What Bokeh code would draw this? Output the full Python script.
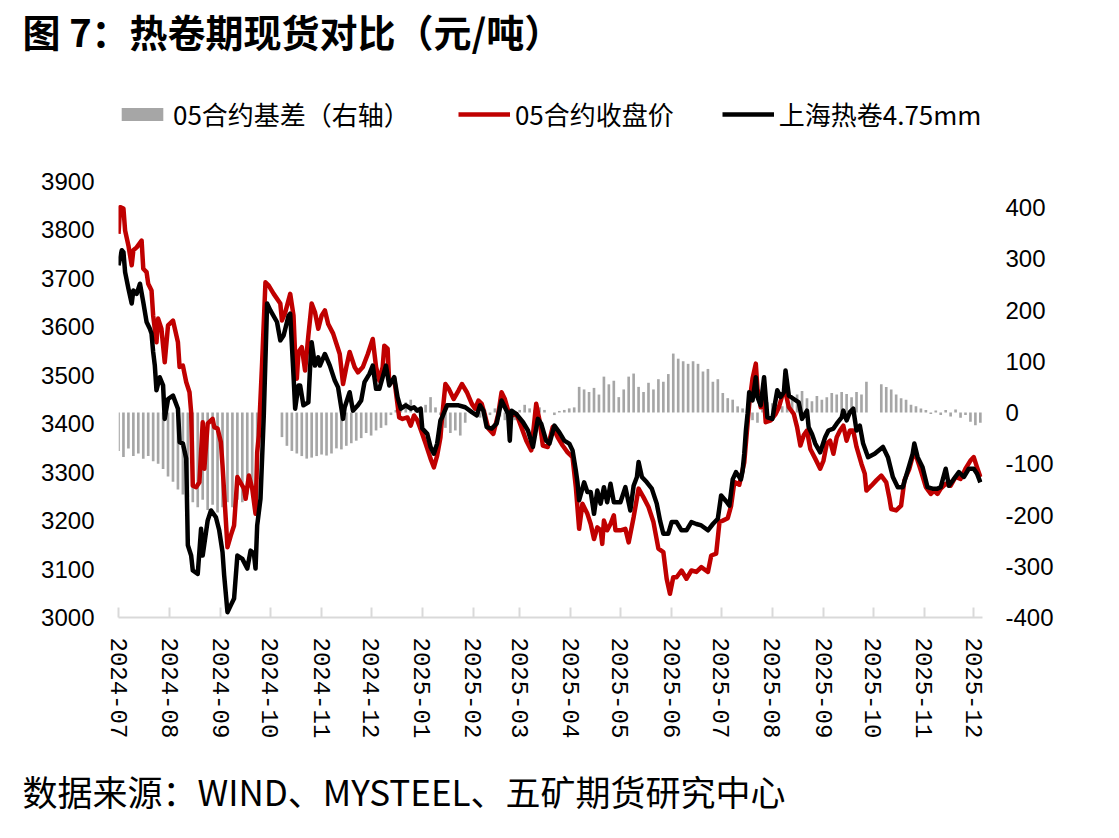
import pandas as pd
from bokeh.plotting import figure
from bokeh.models import (Range1d, LinearAxis, FixedTicker, DatetimeTickFormatter, NumeralTickFormatter,
                          Title, Legend, LegendItem, ColumnDataSource)
from bokeh.embed import file_html
from bokeh.resources import INLINE

# ---------------- data ----------------
tick_labels = ["2024-07", "2024-08", "2024-09", "2024-10", "2024-11", "2024-12",
               "2025-01", "2025-02", "2025-03", "2025-04", "2025-05", "2025-06",
               "2025-07", "2025-08", "2025-09", "2025-10", "2025-11", "2025-12"]
left_ticks = [3000, 3100, 3200, 3300, 3400, 3500, 3600, 3700, 3800, 3900]
right_ticks = [-400, -300, -200, -100, 0, 100, 200, 300, 400]

red_dates = [
    "2024-07-01", "2024-07-02", "2024-07-04", "2024-07-05", "2024-07-07", "2024-07-09", "2024-07-10", "2024-07-12",
    "2024-07-15", "2024-07-16", "2024-07-18", "2024-07-19", "2024-07-21", "2024-07-22", "2024-07-24", "2024-07-25",
    "2024-07-27", "2024-07-29", "2024-07-31", "2024-08-03", "2024-08-06", "2024-08-07", "2024-08-09", "2024-08-11",
    "2024-08-13", "2024-08-14", "2024-08-15", "2024-08-17", "2024-08-19", "2024-08-21", "2024-08-22", "2024-08-24",
    "2024-08-27", "2024-08-28", "2024-08-30", "2024-09-01", "2024-09-02", "2024-09-05", "2024-09-07", "2024-09-09",
    "2024-09-11", "2024-09-15", "2024-09-16", "2024-09-18", "2024-09-20", "2024-09-22", "2024-09-23", "2024-09-24",
    "2024-09-26", "2024-09-28", "2024-09-30", "2024-10-03", "2024-10-07", "2024-10-08", "2024-10-10", "2024-10-13",
    "2024-10-15", "2024-10-16", "2024-10-17", "2024-10-18", "2024-10-20", "2024-10-22", "2024-10-24", "2024-10-26",
    "2024-10-28", "2024-10-30", "2024-11-01", "2024-11-03", "2024-11-05", "2024-11-08", "2024-11-10", "2024-11-12",
    "2024-11-14", "2024-11-16", "2024-11-18", "2024-11-21", "2024-11-23", "2024-11-26", "2024-11-29", "2024-12-02",
    "2024-12-04", "2024-12-06", "2024-12-08", "2024-12-09", "2024-12-11", "2024-12-12", "2024-12-15", "2024-12-18",
    "2024-12-20", "2024-12-23", "2024-12-25", "2024-12-27", "2024-12-29", "2025-01-01", "2025-01-03", "2025-01-06",
    "2025-01-08", "2025-01-10", "2025-01-12", "2025-01-13", "2025-01-15", "2025-01-17", "2025-01-20", "2025-01-23",
    "2025-01-25", "2025-01-28", "2025-01-31", "2025-02-02", "2025-02-04", "2025-02-06", "2025-02-08", "2025-02-10",
    "2025-02-13", "2025-02-16", "2025-02-18", "2025-02-20", "2025-02-22", "2025-02-24", "2025-02-27", "2025-03-02",
    "2025-03-05", "2025-03-08", "2025-03-11", "2025-03-13", "2025-03-15", "2025-03-18", "2025-03-21", "2025-03-24",
    "2025-03-27", "2025-03-30", "2025-04-02", "2025-04-04", "2025-04-06", "2025-04-08", "2025-04-11", "2025-04-13",
    "2025-04-15", "2025-04-17", "2025-04-19", "2025-04-20", "2025-04-21", "2025-04-23", "2025-04-25", "2025-04-27",
    "2025-04-28", "2025-05-01", "2025-05-04", "2025-05-06", "2025-05-09", "2025-05-12", "2025-05-15", "2025-05-18",
    "2025-05-21", "2025-05-24", "2025-05-27", "2025-05-29", "2025-05-31", "2025-06-02", "2025-06-04", "2025-06-07",
    "2025-06-10", "2025-06-13", "2025-06-16", "2025-06-19", "2025-06-23", "2025-06-25", "2025-06-28", "2025-06-30",
    "2025-07-02", "2025-07-05", "2025-07-07", "2025-07-09", "2025-07-12", "2025-07-15", "2025-07-17", "2025-07-18",
    "2025-07-20", "2025-07-22", "2025-07-23", "2025-07-25", "2025-07-27", "2025-07-28", "2025-07-31", "2025-08-03",
    "2025-08-05", "2025-08-07", "2025-08-09", "2025-08-11", "2025-08-14", "2025-08-16", "2025-08-18", "2025-08-20",
    "2025-08-22", "2025-08-24", "2025-08-27", "2025-08-30", "2025-09-01", "2025-09-03", "2025-09-05", "2025-09-07",
    "2025-09-09", "2025-09-11", "2025-09-13", "2025-09-15", "2025-09-17", "2025-09-19", "2025-09-21", "2025-09-24",
    "2025-09-26", "2025-09-27", "2025-09-30", "2025-10-03", "2025-10-06", "2025-10-09", "2025-10-11", "2025-10-12",
    "2025-10-15", "2025-10-18", "2025-10-20", "2025-10-23", "2025-10-26", "2025-10-28", "2025-10-30", "2025-11-02",
    "2025-11-05", "2025-11-07", "2025-11-09", "2025-11-11", "2025-11-14", "2025-11-17", "2025-11-20", "2025-11-23",
    "2025-11-26", "2025-11-29", "2025-12-01", "2025-12-03", "2025-12-05"]
red_values = [
    3792, 3847, 3844, 3799, 3768, 3727, 3758, 3764,
    3778, 3720, 3713, 3689, 3675, 3623, 3568, 3617,
    3596, 3527, 3603, 3613, 3568, 3517, 3520, 3486,
    3465, 3424, 3272, 3269, 3279, 3403, 3307, 3400,
    3410, 3393, 3390, 3362, 3314, 3145, 3169, 3190,
    3290, 3266, 3245, 3293, 3266, 3214, 3341, 3376,
    3527, 3692, 3685, 3668, 3648, 3613, 3630, 3668,
    3623, 3541, 3493, 3548, 3558, 3510, 3582, 3648,
    3630, 3596, 3623, 3634, 3606, 3586, 3565, 3544,
    3482, 3517, 3548, 3517, 3506, 3517, 3544, 3575,
    3517, 3489, 3517, 3561, 3555, 3482, 3493, 3413,
    3410, 3413, 3396, 3417, 3407, 3379, 3359, 3328,
    3310, 3334, 3372, 3413, 3482, 3472, 3451, 3469,
    3482, 3465, 3441, 3431, 3448, 3441, 3417, 3390,
    3379, 3420, 3465, 3451, 3427, 3417, 3420, 3393,
    3365, 3345, 3441, 3407, 3355, 3352, 3393, 3372,
    3355, 3341, 3331, 3269, 3183, 3235, 3214, 3193,
    3162, 3186, 3180, 3152, 3200, 3180, 3193, 3211,
    3180, 3180, 3183, 3155, 3207, 3266, 3248, 3228,
    3197, 3142, 3135, 3080, 3049, 3083, 3083, 3097,
    3080, 3097, 3094, 3104, 3094, 3128, 3132, 3197,
    3200, 3205, 3230, 3280, 3274, 3320, 3400, 3440,
    3493, 3524, 3472, 3434, 3455, 3403, 3407, 3420,
    3434, 3458, 3465, 3434, 3420, 3393, 3355, 3376,
    3386, 3348, 3328, 3307, 3324, 3359, 3365, 3338,
    3372, 3386, 3396, 3365, 3386, 3386, 3352, 3317,
    3297, 3262, 3272, 3283, 3293, 3279, 3245, 3224,
    3221, 3231, 3283, 3307, 3345, 3324, 3303, 3269,
    3255, 3262, 3255, 3266, 3276, 3272, 3290, 3286,
    3307, 3324, 3331, 3310, 3290]

black_dates = [
    "2024-07-01", "2024-07-03", "2024-07-04", "2024-07-05", "2024-07-07", "2024-07-09", "2024-07-10", "2024-07-12",
    "2024-07-14", "2024-07-16", "2024-07-18", "2024-07-20", "2024-07-21", "2024-07-22", "2024-07-23", "2024-07-24",
    "2024-07-26", "2024-07-28", "2024-07-29", "2024-07-31", "2024-08-03", "2024-08-06", "2024-08-07", "2024-08-09",
    "2024-08-11", "2024-08-12", "2024-08-14", "2024-08-15", "2024-08-18", "2024-08-20", "2024-08-21", "2024-08-24",
    "2024-08-26", "2024-08-29", "2024-08-31", "2024-09-02", "2024-09-03", "2024-09-05", "2024-09-07", "2024-09-09",
    "2024-09-11", "2024-09-14", "2024-09-17", "2024-09-19", "2024-09-21", "2024-09-22", "2024-09-23", "2024-09-25",
    "2024-09-27", "2024-09-29", "2024-10-01", "2024-10-05", "2024-10-07", "2024-10-09", "2024-10-12", "2024-10-13",
    "2024-10-15", "2024-10-16", "2024-10-18", "2024-10-19", "2024-10-21", "2024-10-24", "2024-10-25", "2024-10-26",
    "2024-10-28", "2024-10-30", "2024-10-31", "2024-11-03", "2024-11-06", "2024-11-09", "2024-11-11", "2024-11-14",
    "2024-11-15", "2024-11-18", "2024-11-20", "2024-11-23", "2024-11-25", "2024-11-27", "2024-11-30", "2024-12-02",
    "2024-12-04", "2024-12-06", "2024-12-08", "2024-12-10", "2024-12-12", "2024-12-15", "2024-12-17", "2024-12-19",
    "2024-12-22", "2024-12-25", "2024-12-27", "2024-12-29", "2024-12-31", "2025-01-01", "2025-01-04", "2025-01-06",
    "2025-01-08", "2025-01-10", "2025-01-12", "2025-01-13", "2025-01-16", "2025-01-23", "2025-01-27", "2025-01-31",
    "2025-02-03", "2025-02-05", "2025-02-07", "2025-02-09", "2025-02-12", "2025-02-15", "2025-02-18", "2025-02-20",
    "2025-02-22", "2025-02-23", "2025-02-24", "2025-02-27", "2025-03-03", "2025-03-06", "2025-03-09", "2025-03-12",
    "2025-03-14", "2025-03-17", "2025-03-19", "2025-03-22", "2025-03-25", "2025-03-28", "2025-03-31", "2025-04-02",
    "2025-04-04", "2025-04-05", "2025-04-06", "2025-04-09", "2025-04-11", "2025-04-13", "2025-04-15", "2025-04-17",
    "2025-04-19", "2025-04-21", "2025-04-23", "2025-04-25", "2025-04-27", "2025-05-01", "2025-05-04", "2025-05-07",
    "2025-05-09", "2025-05-11", "2025-05-12", "2025-05-14", "2025-05-17", "2025-05-20", "2025-05-23", "2025-05-25",
    "2025-05-27", "2025-05-30", "2025-06-01", "2025-06-04", "2025-06-07", "2025-06-10", "2025-06-13", "2025-06-16",
    "2025-06-19", "2025-06-23", "2025-06-26", "2025-06-29", "2025-07-01", "2025-07-04", "2025-07-06", "2025-07-08",
    "2025-07-10", "2025-07-13", "2025-07-14", "2025-07-15", "2025-07-16", "2025-07-17", "2025-07-18", "2025-07-20",
    "2025-07-22", "2025-07-23", "2025-07-25", "2025-07-27", "2025-07-29", "2025-08-01", "2025-08-04", "2025-08-06",
    "2025-08-08", "2025-08-09", "2025-08-11", "2025-08-14", "2025-08-17", "2025-08-19", "2025-08-22", "2025-08-23",
    "2025-08-25", "2025-08-27", "2025-08-30", "2025-09-02", "2025-09-04", "2025-09-07", "2025-09-09", "2025-09-12",
    "2025-09-13", "2025-09-15", "2025-09-17", "2025-09-19", "2025-09-21", "2025-09-23", "2025-09-25", "2025-09-28",
    "2025-10-02", "2025-10-07", "2025-10-10", "2025-10-13", "2025-10-16", "2025-10-19", "2025-10-22", "2025-10-25",
    "2025-10-26", "2025-10-28", "2025-10-31", "2025-11-03", "2025-11-06", "2025-11-09", "2025-11-11", "2025-11-14",
    "2025-11-16", "2025-11-19", "2025-11-22", "2025-11-25", "2025-11-28", "2025-12-01", "2025-12-03", "2025-12-05"]
black_values = [
    3727, 3758, 3754, 3713, 3679, 3648, 3675, 3668,
    3689, 3651, 3610, 3596, 3586, 3548, 3520, 3469,
    3496, 3479, 3410, 3451, 3458, 3431, 3362, 3359,
    3328, 3149, 3128, 3097, 3090, 3183, 3128, 3200,
    3221, 3207, 3180, 3135, 3087, 3011, 3025, 3039,
    3128, 3121, 3101, 3138, 3132, 3101, 3190, 3245,
    3417, 3648, 3634, 3610, 3572, 3582, 3623, 3627,
    3500, 3431, 3479, 3479, 3438, 3444, 3513, 3568,
    3520, 3537, 3520, 3544, 3520, 3489, 3475, 3410,
    3434, 3465, 3427, 3438, 3448, 3486, 3503, 3520,
    3472, 3472, 3496, 3520, 3479, 3496, 3455, 3431,
    3438, 3431, 3434, 3427, 3431, 3390, 3379, 3352,
    3338, 3359, 3407, 3413, 3438, 3438, 3434, 3424,
    3417, 3438, 3427, 3393, 3390, 3400, 3448, 3434,
    3420, 3365, 3427, 3420, 3403, 3386, 3352, 3410,
    3400, 3365, 3359, 3396, 3382, 3365, 3359, 3345,
    3303, 3279, 3242, 3279, 3259, 3259, 3214, 3262,
    3235, 3269, 3238, 3276, 3238, 3238, 3269, 3221,
    3272, 3290, 3321, 3290, 3279, 3266, 3235, 3200,
    3173, 3173, 3197, 3197, 3180, 3180, 3197, 3193,
    3190, 3180, 3193, 3204, 3252, 3240, 3231, 3285,
    3300, 3285, 3303, 3338, 3386, 3420, 3465, 3448,
    3496, 3455, 3438, 3496, 3413, 3410, 3469, 3455,
    3465, 3510, 3458, 3451, 3444, 3410, 3427, 3393,
    3379, 3359, 3341, 3372, 3386, 3390, 3400, 3413,
    3427, 3407, 3424, 3431, 3386, 3396, 3359, 3331,
    3338, 3352, 3331, 3290, 3269, 3269, 3303, 3338,
    3359, 3331, 3310, 3269, 3266, 3266, 3269, 3307,
    3272, 3286, 3300, 3290, 3307, 3307, 3297, 3279]

# basis bars (right axis), one reading every 3 calendar days from 2024-07-01
basis_start = "2024-07-01"
basis_step_days = 3
basis_values = [
    -75, -87, -70, -85, -80, -90, -85, -95, -100, -110,
    -125, -135, -150, -160, -165, -175, -185, -170, -190, -180,
    -195, -185, -175, -185, -170, -175, -160, -150, -130, -60,
    0, 0, 0, -48, -65, -75, -80, -85, -90, -88,
    -85, -82, -84, -80, -70, -72, -65, -60, -55, -50,
    -40, -45, -35, -30, -25, -5, 5, 10, 20, 25,
    8, 5, 15, 30, 10, -5, -30, -40, -35, -45,
    -20, 0, 0, -10, 5, -5, 8, -8, -15, -25,
    -15, 5, 15, 8, 5, 10, 5, 0, -5, 3,
    5, 8, 10, 50, 45, 40, 48, 35, 70, 55,
    62, 30, 45, 70, 76, 50, 40, 58, 45, 65,
    60, 75, 115, 105, 100, 95, 100, 95, 80, 85,
    60, 65, 38, 28, 25, 12, 8, -5, -15, -20,
    30, 20, 18, 15, 12, 28, 25, 35, 42, 28,
    22, 32, 25, 30, 38, 35, 40, 36, 30, 40,
    35, 60, 0, 0, 55, 50, 45, 35, 28, 25,
    15, 12, 8, 5, -3, 4, -5, 5, -8, 6,
    -10, -5, -18, -25, -20]

title_text = "图 7：热卷期现货对比（元/吨）"
source_text = "数据来源：WIND、MYSTEEL、五矿期货研究中心"
legend_labels = ["05合约基差（右轴）", "05合约收盘价", "上海热卷4.75mm"]

# ---------------- layout constants (pixels) ----------------
W, H = 1119, 838
FRAME_LEFT, FRAME_RIGHT = 118, 982      # frame edges on the canvas
FRAME_TOP, FRAME_BOTTOM = 60, 617       # frame extended upward to host the legend
Y3900, Y3000 = 181, 617                 # canvas rows of left axis 3900 / 3000
R400, RM400 = 207, 617                  # canvas rows of right axis 400 / -400

left_ppu = (Y3000 - Y3900) / 900.0
left_end = 3000 + (FRAME_BOTTOM - FRAME_TOP) / left_ppu
right_ppu = (RM400 - R400) / 800.0
right_end = -400 + (FRAME_BOTTOM - FRAME_TOP) / right_ppu

# ---------------- build ----------------
red_src = ColumnDataSource(dict(x=pd.to_datetime(red_dates), y=red_values))
black_src = ColumnDataSource(dict(x=pd.to_datetime(black_dates), y=black_values))
basis_x = pd.date_range(basis_start, periods=len(basis_values), freq=f"{basis_step_days}D")
basis_src = ColumnDataSource(dict(x=basis_x, y=basis_values))

x0 = pd.Timestamp("2024-07-01")
x1 = x0 + pd.Timedelta(days=523.3)

cjk = "Noto Sans CJK SC"

p = figure(width=W, height=H, x_axis_type="datetime",
           x_range=Range1d(x0, x1), y_range=Range1d(3000, left_end),
           output_backend="svg", toolbar_location=None,
           min_border_left=FRAME_LEFT, min_border_right=W - FRAME_RIGHT,
           min_border_top=FRAME_TOP, min_border_bottom=H - FRAME_BOTTOM)
p.outline_line_color = None
p.grid.visible = False
p.background_fill_color = "white"
p.border_fill_color = "white"

p.extra_y_ranges = {"basis": Range1d(-400, right_end)}

day_ms = 86400000
bars = p.vbar(x="x", top="y", bottom=0, width=1.6 * day_ms, source=basis_src,
              y_range_name="basis", fill_color="#A6A6A6", line_color=None)
red = p.line("x", "y", source=red_src, line_color="#C00000", line_width=4.5, line_join="round")
black = p.line("x", "y", source=black_src, line_color="#000000", line_width=4.5, line_join="round")

axis_font = "Liberation Sans"

# left axis
yax = p.yaxis[0]
yax.ticker = FixedTicker(ticks=left_ticks)
yax.formatter = NumeralTickFormatter(format="0")
yax.axis_line_color = None
yax.major_tick_line_color = None
yax.minor_tick_line_color = None
yax.major_label_standoff = 18
yax.major_label_text_font = axis_font
yax.major_label_text_font_size = "24px"
yax.major_label_text_color = "#000000"

# right axis
rax = LinearAxis(y_range_name="basis", ticker=FixedTicker(ticks=right_ticks))
rax.formatter = NumeralTickFormatter(format="0")
rax.axis_line_color = None
rax.major_tick_line_color = None
rax.minor_tick_line_color = None
rax.major_label_standoff = 17
rax.major_label_text_font = axis_font
rax.major_label_text_font_size = "24px"
rax.major_label_text_color = "#000000"
p.add_layout(rax, "right")

# x axis
xax = p.xaxis[0]
month_ticks = [pd.Timestamp(t + "-01").value // 10**6 for t in tick_labels]
xax.ticker = FixedTicker(ticks=month_ticks)
fmt = "%Y-%m"
xax.formatter = DatetimeTickFormatter(milliseconds=fmt, seconds=fmt, minsec=fmt, minutes=fmt,
                                      hourmin=fmt, hours=fmt, days=fmt, months=fmt, years=fmt)
xax.axis_line_color = "#D9D9D9"
xax.axis_line_width = 2
xax.major_tick_line_color = "#D9D9D9"
xax.major_tick_line_width = 2
xax.major_tick_in = 10
xax.major_tick_out = 0
xax.minor_tick_line_color = None
xax.major_label_orientation = "vertical"
xax.major_label_standoff = 20
xax.major_label_text_font = "Liberation Mono"
xax.major_label_text_font_size = "24px"
xax.major_label_text_color = "#000000"

# title (above the frame)
p.title.text = title_text
p.title.align = "left"
p.title.vertical_align = "top"
p.title.offset = -96
p.title.standoff = 2
p.title.text_font = cjk
p.title.text_font_style = "bold"
p.title.text_font_size = "38px"
p.title.text_color = "#000000"

# legend (inside the extended frame, above the data)
legend = Legend(items=[LegendItem(label=legend_labels[0], renderers=[bars]),
                       LegendItem(label=legend_labels[1], renderers=[red]),
                       LegendItem(label=legend_labels[2], renderers=[black])],
                orientation="horizontal", location=(-2, FRAME_BOTTOM - 132))
legend.label_text_font = cjk
legend.label_text_font_size = "26px"
legend.label_text_color = "#000000"
legend.glyph_width = 52
legend.glyph_height = 16
legend.label_standoff = 5
legend.spacing = 48
legend.padding = 0
legend.margin = 0
legend.border_line_color = None
legend.background_fill_alpha = 0
p.add_layout(legend)

# source note (below the x axis)
src_title = Title(text=source_text, align="left", offset=-96, standoff=43, text_font=cjk,
                  text_font_size="35px", text_font_style="normal", text_color="#000000")
p.add_layout(src_title, "below")

open("out.html", "w").write(file_html(p, INLINE))
